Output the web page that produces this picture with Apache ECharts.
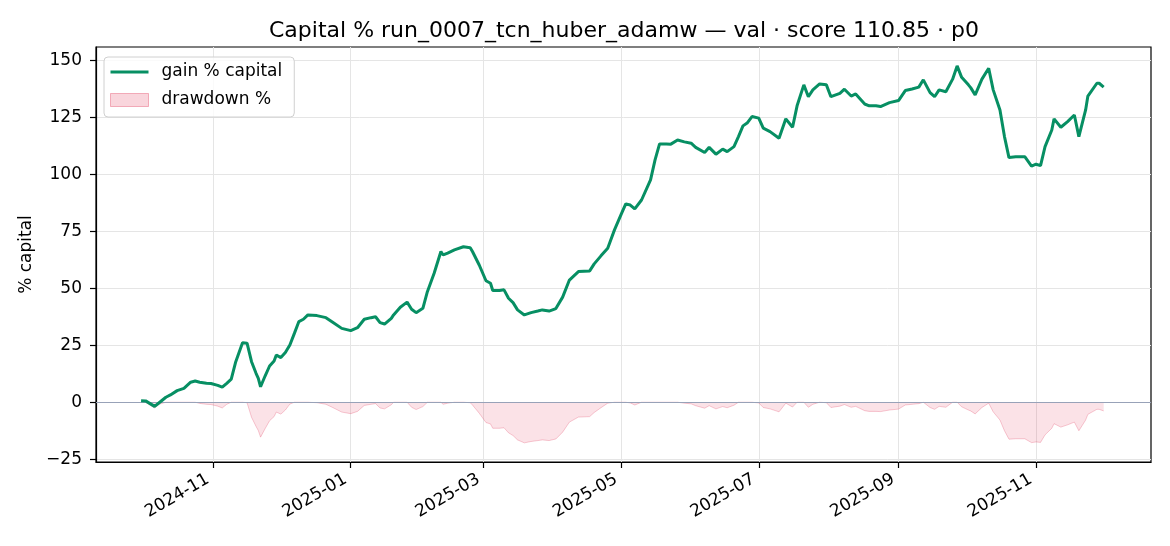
<!DOCTYPE html>
<html>
<head>
<meta charset="utf-8">
<script src="https://cdn.jsdelivr.net/npm/echarts@6/dist/echarts.min.js"></script>
<style>
  html, body { margin: 0; padding: 0; background: #fff; }
  #chart { width: 1170px; height: 546px; }
</style>
</head>
<body>
<div id="chart"></div>
<script>
// values
const dates = [
  '2024-09-30', '2024-10-02', '2024-10-06', '2024-10-08', '2024-10-11', '2024-10-13', '2024-10-16',
  '2024-10-19', '2024-10-22', '2024-10-24', '2024-10-26', '2024-10-29', '2024-10-31', '2024-11-03',
  '2024-11-05', '2024-11-07', '2024-11-09', '2024-11-11', '2024-11-14', '2024-11-16', '2024-11-18',
  '2024-11-20', '2024-11-21', '2024-11-22', '2024-11-24', '2024-11-26', '2024-11-28', '2024-11-29',
  '2024-12-01', '2024-12-03', '2024-12-05', '2024-12-07', '2024-12-09', '2024-12-11', '2024-12-13',
  '2024-12-17', '2024-12-21', '2024-12-24', '2024-12-28', '2025-01-01', '2025-01-04', '2025-01-07',
  '2025-01-10', '2025-01-12', '2025-01-14', '2025-01-16', '2025-01-19', '2025-01-20', '2025-01-23',
  '2025-01-26', '2025-01-28', '2025-01-30', '2025-02-02', '2025-02-04', '2025-02-07', '2025-02-10',
  '2025-02-11', '2025-02-13', '2025-02-16', '2025-02-20', '2025-02-23', '2025-02-24', '2025-02-27',
  '2025-03-02', '2025-03-04', '2025-03-05', '2025-03-08', '2025-03-10', '2025-03-12', '2025-03-14',
  '2025-03-16', '2025-03-19', '2025-03-22', '2025-03-25', '2025-03-27', '2025-03-30', '2025-04-02',
  '2025-04-05', '2025-04-08', '2025-04-12', '2025-04-17', '2025-04-19', '2025-04-22', '2025-04-25',
  '2025-04-28', '2025-05-01', '2025-05-03', '2025-05-05', '2025-05-07', '2025-05-10', '2025-05-14',
  '2025-05-16', '2025-05-18', '2025-05-21', '2025-05-23', '2025-05-26', '2025-05-29', '2025-06-01',
  '2025-06-03', '2025-06-07', '2025-06-09', '2025-06-12', '2025-06-15', '2025-06-17', '2025-06-20',
  '2025-06-22', '2025-06-24', '2025-06-26', '2025-06-28', '2025-07-01', '2025-07-03', '2025-07-06',
  '2025-07-10', '2025-07-13', '2025-07-16', '2025-07-18', '2025-07-21', '2025-07-23', '2025-07-25',
  '2025-07-28', '2025-07-31', '2025-08-02', '2025-08-06', '2025-08-08', '2025-08-11', '2025-08-13',
  '2025-08-17', '2025-08-19', '2025-08-22', '2025-08-24', '2025-08-28', '2025-09-01', '2025-09-04',
  '2025-09-07', '2025-09-10', '2025-09-12', '2025-09-15', '2025-09-17', '2025-09-19', '2025-09-22',
  '2025-09-25', '2025-09-27', '2025-09-29', '2025-10-02', '2025-10-03', '2025-10-05', '2025-10-08',
  '2025-10-11', '2025-10-13', '2025-10-16', '2025-10-18', '2025-10-20', '2025-10-23', '2025-10-27',
  '2025-10-30', '2025-11-01', '2025-11-03', '2025-11-05', '2025-11-08', '2025-11-09', '2025-11-12',
  '2025-11-15', '2025-11-18', '2025-11-20', '2025-11-23', '2025-11-24', '2025-11-28', '2025-11-29',
  '2025-12-01'
];

const gain = [
  0.7, 0.6, -1.8, -0.2, 2.2, 3.2, 5.1,
  6.1, 8.8, 9.3, 8.8, 8.3, 8.2, 7.4,
  6.6, 8.3, 10.1, 17.8, 26.1, 25.9, 17.8,
  12.7, 10.5, 6.8, 11.5, 15.9, 18.1, 20.7,
  19.6, 21.8, 25.1, 30.2, 35.4, 36.4, 38.3,
  38.0, 37.1, 35.1, 32.4, 31.4, 32.7, 36.4,
  37.1, 37.5, 34.9, 34.3, 36.8, 38.3, 41.7,
  43.9, 40.8, 39.3, 41.2, 48.5, 56.6, 66.1,
  64.6, 65.4, 66.8, 68.2, 67.8, 66.1, 60.2,
  53.3, 52.2, 49.0, 49.0, 49.3, 45.6, 43.7,
  40.5, 38.3, 39.3, 40.0, 40.5, 40.0, 41.1,
  46.1, 53.6, 57.3, 57.6, 60.7, 64.2, 67.5,
  75.6, 82.5, 87.0, 86.5, 84.8, 88.7, 97.5,
  106.3, 113.3, 113.3, 113.2, 115.0, 114.2, 113.6,
  111.8, 109.5, 111.8, 108.8, 111.0, 109.9, 112.1,
  116.5, 121.2, 122.6, 125.3, 124.6, 120.2, 118.7,
  115.8, 124.3, 120.6, 130.0, 139.2, 134.0, 137.0,
  139.6, 139.2, 134.0, 135.5, 137.3, 134.3, 135.2,
  130.8, 130.0, 130.0, 129.7, 131.4, 132.3, 136.7,
  137.4, 138.2, 141.4, 135.8, 134.0, 137.0, 136.2,
  141.7, 147.5, 142.5, 139.2, 138.0, 134.8, 141.7,
  146.5, 137.0, 128.2, 116.5, 107.3, 107.7, 107.7,
  103.6, 104.4, 103.8, 112.1, 119.4, 124.3, 120.6,
  123.1, 126.0, 116.5, 128.2, 134.3, 139.9, 139.9,
  138.2
];

const drawdown = [
  0, -0.1, -2.5, -0.9, 0, 0, 0,
  0, 0, 0, -0.5, -0.9, -1.0, -1.7,
  -2.5, -0.9, 0, 0, 0, -0.2, -6.6,
  -10.6, -12.4, -15.3, -11.6, -8.1, -6.3, -4.3,
  -5.2, -3.4, -0.8, 0, 0, 0, 0,
  -0.2, -0.9, -2.3, -4.3, -5.0, -4.0, -1.4,
  -0.9, -0.6, -2.5, -2.9, -1.1, 0, 0,
  0, -2.2, -3.2, -1.9, 0, 0, 0,
  -0.9, -0.4, 0, 0, -0.2, -1.2, -4.8,
  -8.9, -9.5, -11.4, -11.4, -11.2, -13.4, -14.6,
  -16.5, -17.8, -17.2, -16.8, -16.5, -16.8, -16.1,
  -13.1, -8.7, -6.5, -6.3, -4.5, -2.4, -0.4,
  0, 0, 0, -0.3, -1.2, 0, 0,
  0, 0, 0, 0, 0, -0.4, -0.7,
  -1.5, -2.6, -1.5, -2.9, -1.9, -2.4, -1.3,
  0, 0, 0, 0, -0.3, -2.3, -2.9,
  -4.2, -0.4, -2.1, 0, 0, -2.2, -0.9,
  0, -0.2, -2.3, -1.7, -1.0, -2.2, -1.8,
  -3.7, -4.0, -4.0, -4.1, -3.4, -3.0, -1.2,
  -0.9, -0.6, 0, -2.3, -3.1, -1.8, -2.2,
  0, 0, -2.0, -3.4, -3.8, -5.1, -2.3,
  -0.4, -4.2, -7.8, -12.5, -16.2, -16.0, -16.0,
  -17.7, -17.4, -17.6, -14.3, -11.4, -9.4, -10.9,
  -9.9, -8.7, -12.5, -7.8, -5.3, -3.1, -3.1,
  -3.8
];

const xTickLabels = ['2024-11', '2025-01', '2025-03', '2025-05', '2025-07', '2025-09', '2025-11'];
const yTicks = [-25, 0, 25, 50, 75, 100, 125, 150];

// dates -> UTC timestamps, plotted on a plain value axis
const ts = (s) => {
  const p = s.split('-').map(Number);
  return Date.UTC(p[0], p[1] - 1, p[2] || 1);
};
const fmtMonth = (v) => {
  const d = new Date(v);
  return d.getUTCFullYear() + '-' + String(d.getUTCMonth() + 1).padStart(2, '0');
};
const xTicks = xTickLabels.map((m) => ts(m + '-01'));
const gainData = dates.map((d, i) => [ts(d), gain[i]]);
const ddData = dates.map((d, i) => [ts(d), drawdown[i]]);

const FONT = 'DejaVu Sans';
const GREEN = '#078f63';

const chart = echarts.init(document.getElementById('chart'), null, { renderer: 'canvas' });

const option = {
  backgroundColor: '#ffffff',
  animation: false,
  textStyle: { fontFamily: FONT },
  title: {
    text: 'Capital % run_0007_tcn_huber_adamw \u2014 val \u00b7 score 110.85 \u00b7 p0',
    left: 619,
    top: 15,
    textAlign: 'center',
    textStyle: { fontFamily: FONT, fontSize: 22, fontWeight: 'normal', color: '#000' },
  },
  legend: {
    orient: 'vertical',
    left: 104,
    top: 57,
    padding: [6, 12, 8, 6],
    itemWidth: 38,
    itemHeight: 13,
    itemGap: 10,
    borderColor: '#d0d0d0',
    borderWidth: 1,
    borderRadius: 4,
    backgroundColor: 'rgba(255,255,255,0.8)',
    textStyle: { fontFamily: FONT, fontSize: 17, color: '#000', lineHeight: 18, padding: [0, 0, 0, 8] },
    data: [
      // thin bar so the legend shows a plain line
      { name: 'gain % capital', icon: 'path://M0,0 L40,0 L40,3 L0,3 Z', itemStyle: { color: GREEN } },
      {
        name: 'drawdown %',
        icon: 'rect',
        itemStyle: { color: 'rgba(220,20,60,0.18)', borderColor: 'rgba(220,20,60,0.3)', borderWidth: 1 },
      },
    ],
  },
  grid: {
    left: 96,
    right: 19,
    top: 47,
    bottom: 84,
    show: true,
    borderColor: '#000',
    borderWidth: 1.2,
    backgroundColor: 'transparent',
  },
  xAxis: {
    type: 'value',
    min: ts('2024-09-10'),
    max: ts('2025-12-22'),
    axisLine: { show: true, onZero: false, lineStyle: { color: '#000', width: 1.2 } },
    axisTick: { show: true, length: 6, customValues: xTicks, lineStyle: { color: '#000', width: 1.2 } },
    axisLabel: {
      customValues: xTicks,
      rotate: 30,
      margin: 13,
      padding: [0, 6, 0, 0],
      fontFamily: FONT,
      fontSize: 17,
      color: '#000',
      formatter: fmtMonth,
    },
    splitLine: { show: true, lineStyle: { color: '#e5e5e5', width: 1 } },
  },
  yAxis: {
    type: 'value',
    min: -26.2,
    max: 155.8,
    name: '% capital',
    nameLocation: 'middle',
    nameGap: 54,
    nameTextStyle: { fontFamily: FONT, fontSize: 17, color: '#000' },
    axisLine: { show: true, onZero: false, lineStyle: { color: '#000', width: 1.2 } },
    axisTick: { show: true, length: 6, customValues: yTicks, lineStyle: { color: '#000', width: 1.2 } },
    axisLabel: {
      customValues: yTicks,
      margin: 14,
      fontFamily: FONT,
      fontSize: 17,
      color: '#000',
      formatter: (v) => (v < 0 ? '\u2212' + Math.abs(v) : String(v)),
    },
    splitLine: { show: true, lineStyle: { color: '#e5e5e5', width: 1 } },
  },
  series: [
    {
      name: 'drawdown %',
      type: 'line',
      data: ddData,
      showSymbol: false,
      symbol: 'none',
      lineStyle: { color: 'rgba(220,20,60,0.22)', width: 1 },
      itemStyle: { color: 'rgba(220,20,60,0.18)' },
      areaStyle: { color: 'rgba(220,20,60,0.18)', origin: 0 },
      z: 2,
      markLine: {
        silent: true,
        symbol: 'none',
        label: { show: false },
        lineStyle: { color: '#98a2b8', width: 1.2, type: 'solid' },
        data: [{ yAxis: 0 }],
        z: 4,
      },
    },
    {
      name: 'gain % capital',
      type: 'line',
      data: gainData,
      showSymbol: false,
      symbol: 'none',
      lineStyle: { color: GREEN, width: 3 },
      itemStyle: { color: GREEN },
      z: 5,
    },
  ],
};

chart.setOption(option);
</script>
</body>
</html>
